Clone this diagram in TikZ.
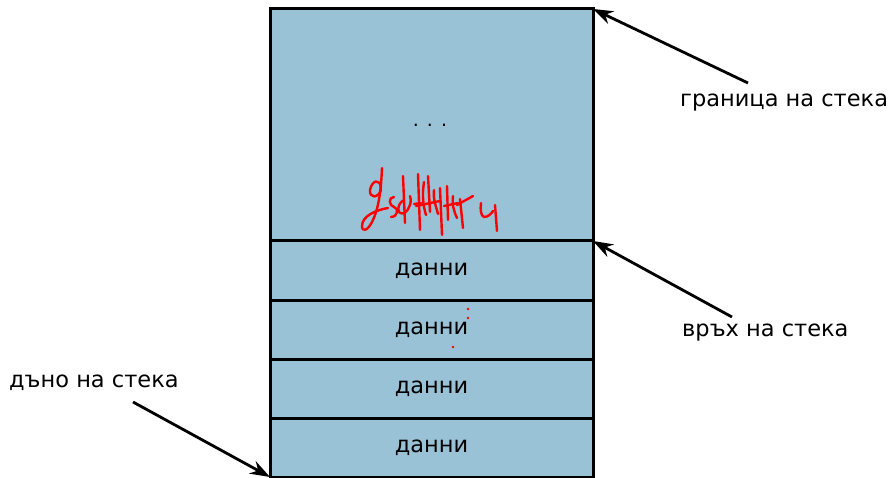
\documentclass[tikz,border=0pt]{standalone}
\usepackage{fontspec}
\setmainfont{DejaVu Sans}
\usetikzlibrary{arrows.meta}
\definecolor{stackblue}{HTML}{9AC2D6}
\tikzset{
  cell/.style={draw=black, line width=3pt, fill=stackblue, minimum width=323pt, inner sep=0pt, outer sep=0pt},
  lbl/.style={font=\fontsize{22.5}{26}\selectfont, inner sep=0pt},
  pointer/.style={-{Stealth[length=20pt,width=14pt]}, line width=2.8pt},
  scrib/.style={red, line width=2.4pt, line cap=round, line join=round}
}
\begin{document}
\begin{tikzpicture}[x=1pt,y=-1pt]
\useasboundingbox (0,0) rectangle (896,478);
\node[cell, minimum height=232pt, anchor=north west] (top) at (270,9) {};
\node[cell, minimum height=59pt, anchor=north] (d1) at (top.south) {};
\node[cell, minimum height=59pt, anchor=north] (d2) at (d1.south) {};
\node[cell, minimum height=59pt, anchor=north] (d3) at (d2.south) {};
\node[cell, minimum height=59pt, anchor=north] (d4) at (d3.south) {};
\node[lbl] (dd1) at (d1.center) {данни};
\node[lbl] (dd2) at (d2.center) {данни};
\node[lbl] (dd3) at (d3.center) {данни};
\node[lbl] (dd4) at (d4.center) {данни};
\node[font=\fontsize{19}{22}\selectfont, inner sep=0pt, anchor=base] (dots) at (430,127) {. . .};
\node[lbl, anchor=west] (tgran) at (680,103) {граница на стека};
\node[lbl, anchor=west] (tvrah) at (682,333) {връх на стека};
\node[lbl, anchor=west] (tdano) at (9,383) {дъно на стека};
\coordinate (agran) at (748,83);
\coordinate (avrah) at (732,317);
\coordinate (adano) at (133,402);
\draw[pointer] (agran) -- (top.north east);
\draw[pointer] (avrah) -- (top.south east);
\draw[pointer] (adano) -- (d4.south west);
% red handwritten scribble
\draw[scrib] (381,188) .. controls (380,178) and (372,180) .. (370,190) .. controls (369,198) and (378,199) .. (381,190);
\draw[scrib] (382,168) .. controls (381,190) and (379,208) .. (372,222) .. controls (368,230) and (362,233) .. (362,226) .. controls (362,216) and (376,210) .. (388,208);
\draw[scrib] (394,197) .. controls (388,197) and (389,206) .. (394,207) .. controls (399,208) and (398,217) .. (391,217);
\draw[scrib] (403,176) -- (405,223);
\draw[scrib] (404,200) .. controls (396,204) and (397,216) .. (404,213) .. controls (410,210) and (412,200) .. (410,196);
\draw[scrib] (414,204) -- (421,203);
\draw[scrib] (418,174) -- (420,230);
\draw[scrib] (424,182) .. controls (422,195) and (423,205) .. (426,215);
\draw[scrib] (428,176) -- (430,212);
\draw[scrib] (416,206) -- (440,201);
\draw[scrib] (434,190) .. controls (433,200) and (436,206) .. (438,214);
\draw[scrib] (440,188) -- (442,235);
\draw[scrib] (447,186) -- (448,220);
\draw[scrib] (453,196) .. controls (452,205) and (454,212) .. (457,218);
\draw[scrib] (444,206) -- (458,203);
\draw[scrib] (457,205) .. controls (462,202) and (468,199) .. (473,196);
\draw[scrib] (460,199) -- (463,228);
\draw[scrib] (481,203) .. controls (480,210) and (481,216) .. (484,217) .. controls (488,217) and (491,214) .. (493,211);
\draw[scrib] (495,205) -- (497,231);
% red dots
\fill[red] (468,309) circle (1.3pt);
\fill[red] (468,318) circle (1.3pt);
\fill[red] (453,347) circle (1.3pt);
\end{tikzpicture}
\end{document}
